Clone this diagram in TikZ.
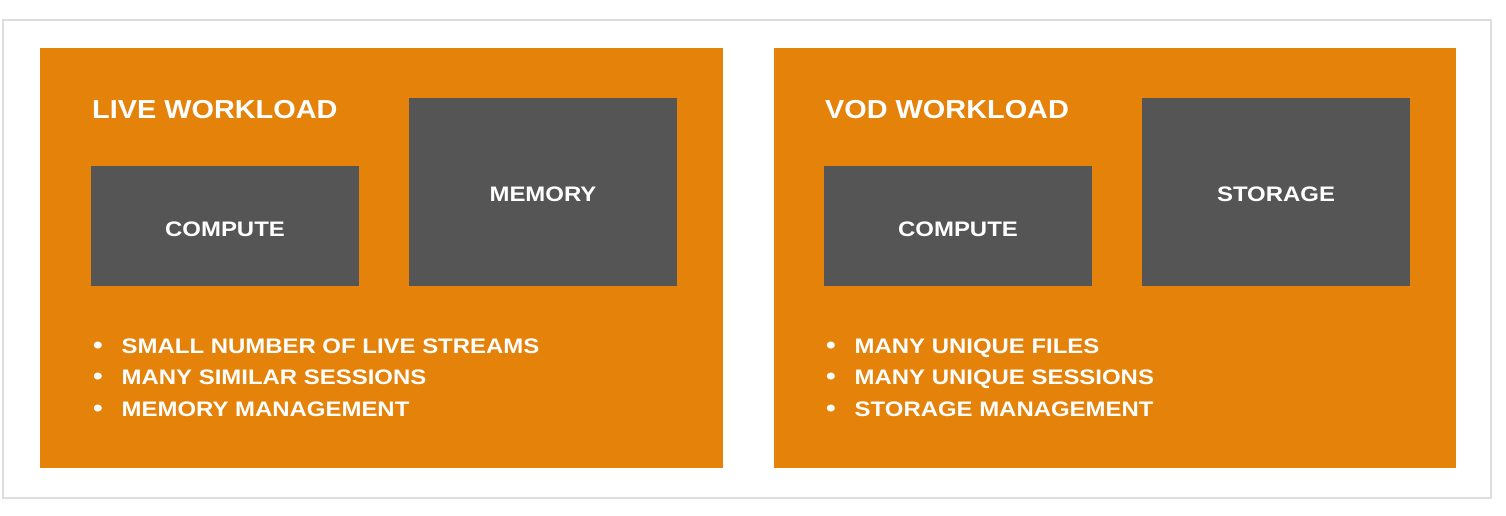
\documentclass[tikz,border=0pt]{standalone}
\usepackage{fontspec}
\setmainfont{Liberation Sans}
\newfontfamily\widefont[FakeStretch=1.14]{Liberation Sans}
\newfontfamily\titlefont[FakeStretch=1.11]{Liberation Sans}
\definecolor{orng}{HTML}{E5820A}
\definecolor{dgray}{HTML}{555555}
\definecolor{lgray}{HTML}{DDDDDD}
\begin{document}
\begin{tikzpicture}[x=1pt,y=-1pt,
  panel/.style={fill=orng,draw=none},
  box/.style={fill=dgray,draw=none},
  boxlabel/.style={text=white,font=\widefont\bfseries\fontsize{21}{24}\selectfont},
  title/.style={text=white,font=\titlefont\bfseries\fontsize{26}{30}\selectfont,anchor=base west,inner sep=0pt},
  bullet/.style={text=white,font=\widefont\bfseries\fontsize{21}{24}\selectfont,anchor=base west,inner sep=0pt}]
\useasboundingbox (0,0) rectangle (1506,516);
\draw[lgray,line width=2.5pt] (3.2,20.2) rectangle (1490.8,497.8);
% left panel
\fill[panel] (40,48) rectangle (723,468);
\fill[box] (91,166) rectangle (359,286);
\fill[box] (409,98) rectangle (677,286);
\node[boxlabel] (lc) at (225,229) {COMPUTE};
\node[boxlabel] (lm) at (543,194) {MEMORY};
\node[title] (lt) at (92,118) {LIVE WORKLOAD};
\foreach \t/\y [count=\i] in {SMALL NUMBER OF LIVE STREAMS/353, MANY SIMILAR SESSIONS/384.5, MEMORY MANAGEMENT/416}{
  \node[bullet,scale=1.15] (lb\i) at (93,\y) {•};
  \node[bullet] (lbt\i) at (121.5,\y) {\t};
}
% right panel
\fill[panel] (774,48) rectangle (1456,468);
\fill[box] (824,166) rectangle (1092,286);
\fill[box] (1142,98) rectangle (1410,286);
\node[boxlabel] (rc) at (958,229) {COMPUTE};
\node[boxlabel] (rs) at (1276,194) {STORAGE};
\node[title] (rt) at (825,118) {VOD WORKLOAD};
\foreach \t/\y [count=\i] in {MANY UNIQUE FILES/353, MANY UNIQUE SESSIONS/384.5, STORAGE MANAGEMENT/416}{
  \node[bullet,scale=1.15] (rb\i) at (826,\y) {•};
  \node[bullet] (rbt\i) at (854.5,\y) {\t};
}
\end{tikzpicture}
\end{document}
